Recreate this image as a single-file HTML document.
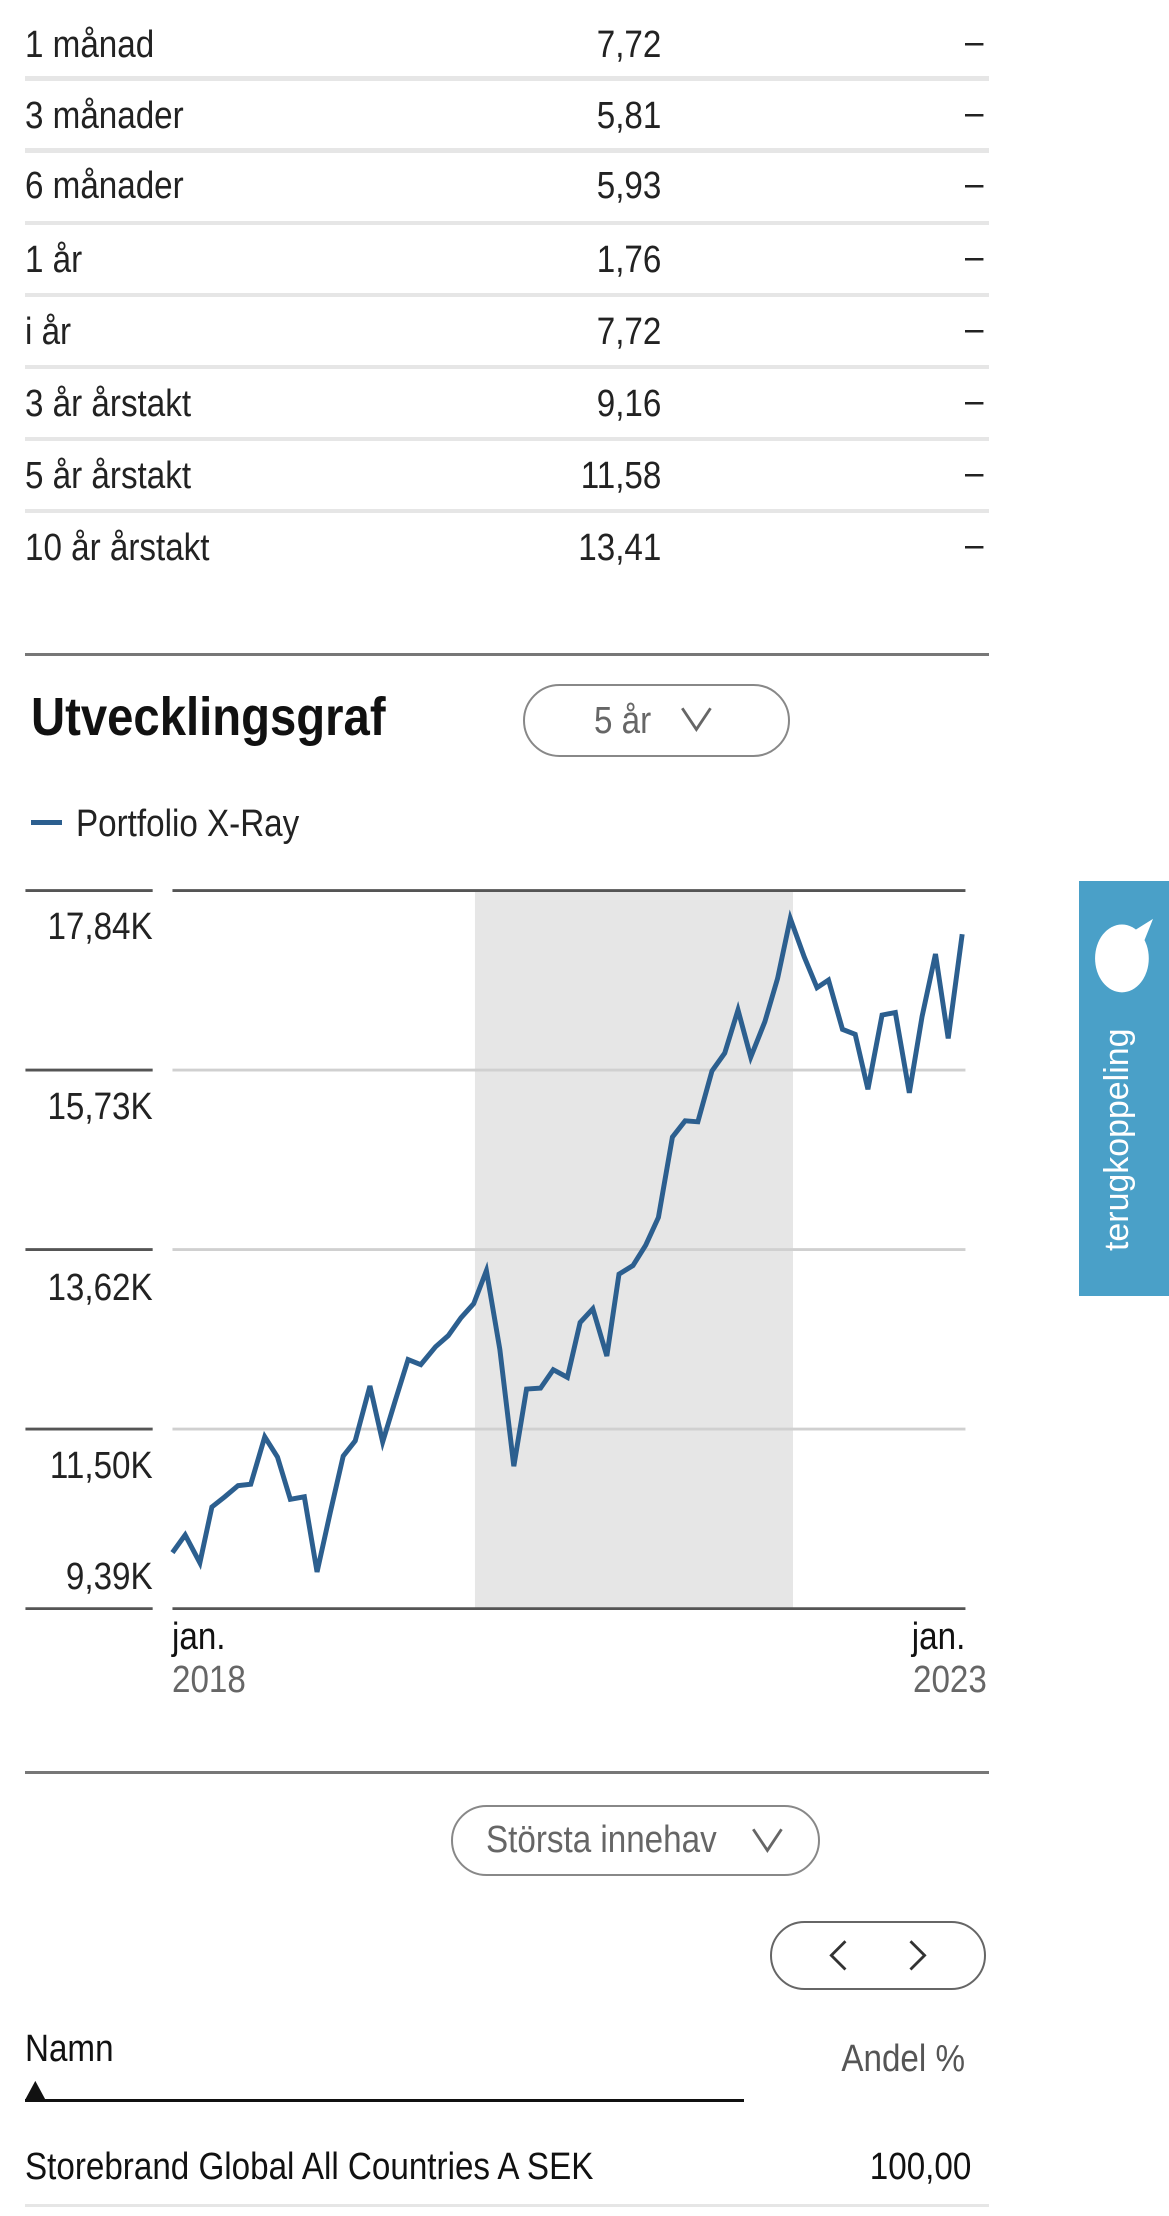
<!DOCTYPE html>
<html><head><meta charset="utf-8"><style>
html,body{margin:0;padding:0;background:#fff;}
body{width:1169px;height:2216px;overflow:hidden;}
#w{zoom:1.41354;width:827px;height:1568px;position:relative;font-family:"Liberation Sans Narrow","Liberation Sans",sans-serif;color:#222;}
.a{position:absolute;white-space:nowrap;}
.t{font-size:27px;line-height:30px;transform:scaleX(0.87);transform-origin:left center;}
.sep{position:absolute;left:18px;width:682px;height:3px;background:#e6e6e6;}
.r{text-align:right;transform-origin:right center;}
</style></head><body><div id="w">
<div class="a t" style="left:18px;top:17px">1 månad</div><div class="a t r" style="left:368px;width:100px;top:17px">7,72</div><div class="a t" style="left:683px;top:15px">–</div>
<div class="sep" style="top:54px"></div>
<div class="a t" style="left:18px;top:67px">3 månader</div><div class="a t r" style="left:368px;width:100px;top:67px">5,81</div><div class="a t" style="left:683px;top:65px">–</div>
<div class="sep" style="top:105px"></div>
<div class="a t" style="left:18px;top:117px">6 månader</div><div class="a t r" style="left:368px;width:100px;top:117px">5,93</div><div class="a t" style="left:683px;top:115px">–</div>
<div class="sep" style="top:156px"></div>
<div class="a t" style="left:18px;top:169px">1 år</div><div class="a t r" style="left:368px;width:100px;top:169px">1,76</div><div class="a t" style="left:683px;top:167px">–</div>
<div class="sep" style="top:207px"></div>
<div class="a t" style="left:18px;top:220px">i år</div><div class="a t r" style="left:368px;width:100px;top:220px">7,72</div><div class="a t" style="left:683px;top:218px">–</div>
<div class="sep" style="top:258px"></div>
<div class="a t" style="left:18px;top:271px">3 år årstakt</div><div class="a t r" style="left:368px;width:100px;top:271px">9,16</div><div class="a t" style="left:683px;top:269px">–</div>
<div class="sep" style="top:309px"></div>
<div class="a t" style="left:18px;top:322px">5 år årstakt</div><div class="a t r" style="left:368px;width:100px;top:322px">11,58</div><div class="a t" style="left:683px;top:320px">–</div>
<div class="sep" style="top:360px"></div>
<div class="a t" style="left:18px;top:373px">10 år årstakt</div><div class="a t r" style="left:368px;width:100px;top:373px">13,41</div><div class="a t" style="left:683px;top:371px">–</div>

<div class="a" style="left:18px;top:462px;width:682px;height:2px;background:#777"></div>
<div class="a" style="left:22px;top:487px;font-size:38px;font-weight:bold;color:#111;line-height:42px;transform:scaleX(0.88);transform-origin:left center">Utvecklingsgraf</div>
<div class="a" style="left:370px;top:484px;width:186px;height:49px;border:2px solid #888;border-radius:26px;"></div>
<div class="a t" style="left:420px;top:495px;color:#666">5 år</div>
<svg class="a" style="left:480px;top:498px" width="26" height="22"><polyline points="3,3 13,18 23,3" fill="none" stroke="#666" stroke-width="2"/></svg>

<div class="a" style="left:22px;top:580px;width:22px;height:4px;background:#2c5f8f"></div>
<div class="a t" style="left:54px;top:568px;color:#222">Portfolio X-Ray</div>

<svg class="a" style="left:0;top:0" width="827" height="1568">
<rect x="336" y="630" width="225" height="508" fill="#e6e6e6"/>
<g stroke="#d0d0d0" stroke-width="2"><line x1="122" y1="757" x2="683" y2="757"/><line x1="122" y1="884" x2="683" y2="884"/><line x1="122" y1="1011" x2="683" y2="1011"/></g>
<g stroke="#555" stroke-width="2"><line x1="122" y1="630" x2="683" y2="630"/><line x1="122" y1="1138" x2="683" y2="1138"/>
<line x1="18" y1="630" x2="108" y2="630"/><line x1="18" y1="757" x2="108" y2="757"/><line x1="18" y1="884" x2="108" y2="884"/><line x1="18" y1="1011" x2="108" y2="1011"/><line x1="18" y1="1138" x2="108" y2="1138"/></g>
<polyline fill="none" stroke="#2c5f8f" stroke-width="3.5" stroke-linejoin="miter" points="122,1098.4 131,1085.9 141.4,1105.6 149.9,1066.1 159,1058.9 168.4,1051 177.4,1050 187.3,1016.5 196.3,1030.8 205.4,1060.7 215.3,1058.9 224.3,1112.1 233.7,1069.7 242.8,1030.1 251.3,1019.3 261.7,980.5 270.7,1020.1 279.7,990.6 288.7,961.8 297.7,965.4 308.1,952.8 317.1,944.9 326.1,932.3 335.1,922.3 344.1,898.9 353.6,954.6 363.5,1037.3 372.5,982.7 382.4,982 391.4,969 401.4,974.4 410.4,935.6 419.4,925.9 429.3,959.3 437.9,901.4 447.8,895.3 456.8,880.9 465.8,861.2 475.7,804.4 484.7,792.9 493.7,793.6 503.7,757.6 512.7,745 522.1,714.5 531.1,747.9 541.1,722.8 550.1,692.2 559.1,649.8 569,677.1 578,698.7 586.1,693.3 596,728.2 605,731.7 614,770.6 624,718.1 633.4,716.3 643.3,773.1 652.3,719.2 661.8,674.9 670.8,734.6 680.7,660.9"/>
</svg>
<div class="a t r" style="left:0;width:108px;top:641px">17,84K</div>
<div class="a t r" style="left:0;width:108px;top:768px">15,73K</div>
<div class="a t r" style="left:0;width:108px;top:896px">13,62K</div>
<div class="a t r" style="left:0;width:108px;top:1022px">11,50K</div>
<div class="a t r" style="left:0;width:108px;top:1101px">9,39K</div>
<div class="a t" style="left:122px;top:1143px;color:#111">jan.</div>
<div class="a t" style="left:122px;top:1174px;color:#666">2018</div>
<div class="a t r" style="left:583px;width:100px;top:1143px;color:#111">jan.</div>
<div class="a t" style="left:646px;top:1174px;color:#666">2023</div>

<div class="a" style="left:18px;top:1253px;width:682px;height:2px;background:#777"></div>
<div class="a" style="left:319px;top:1277px;width:258px;height:47px;border:2px solid #888;border-radius:26px;"></div>
<div class="a t" style="left:344px;top:1287px;color:#666">Största innehav</div>
<svg class="a" style="left:530px;top:1291px" width="26" height="22"><polyline points="3,3 13,18 23,3" fill="none" stroke="#666" stroke-width="2"/></svg>
<div class="a" style="left:545px;top:1359px;width:150px;height:46px;border:2px solid #666;border-radius:26px;"></div>
<svg class="a" style="left:580px;top:1370px" width="80" height="26"><polyline points="18,3 8,13 18,23" fill="none" stroke="#333" stroke-width="2"/><polyline points="64,3 74,13 64,23" fill="none" stroke="#333" stroke-width="2"/></svg>

<div class="a t" style="left:18px;top:1435px;color:#111">Namn</div>
<svg class="a" style="left:17px;top:1470px" width="16" height="16"><polygon points="1,15 8,2 15,15" fill="#111"/></svg>
<div class="a" style="left:18px;top:1485px;width:508px;height:2px;background:#111"></div>
<div class="a t r" style="left:533px;width:150px;top:1442px;color:#555">Andel %</div>
<div class="a t" style="left:18px;top:1518px;color:#111">Storebrand Global All Countries A SEK</div>
<div class="a t r" style="left:587px;width:100px;top:1518px;color:#111">100,00</div>
<div class="a" style="left:18px;top:1559px;width:682px;height:2px;background:#e6e6e6"></div>

<div class="a" style="left:763px;top:623px;width:64px;height:294px;background:#4aa0c8"></div>
<svg class="a" style="left:770px;top:648px" width="50" height="60"><ellipse cx="24" cy="30" rx="19" ry="24" fill="#fff"/><polygon points="30,12 46,2 38,22" fill="#fff"/></svg>
<div class="a" style="left:777px;top:885px;transform:rotate(-90deg);transform-origin:0 0;font-family:'Liberation Sans',sans-serif;font-size:24px;line-height:28px;color:#fff;">terugkoppeling</div>
</div></body></html>
